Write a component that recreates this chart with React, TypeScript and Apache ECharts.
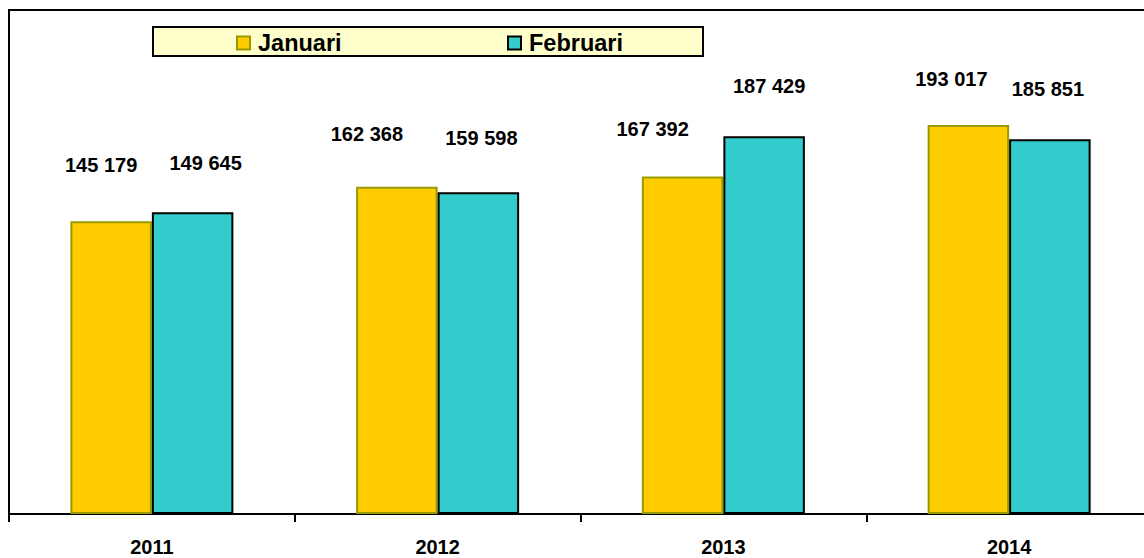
import React, { useEffect, useRef } from "react";
import * as echarts from "echarts";

const categories = ["2011", "2012", "2013", "2014"];
const januari = [145179, 162368, 167392, 193017];
const februari = [149645, 159598, 187429, 185851];
const seriesNames = ["Januari", "Februari"];
// manual label offsets (dx, dy from bar top to label centre)
const janLabelOffsets = [[-10, -56], [-30, -53], [-30, -48], [-17, -46]];
const febLabelOffsets = [[13, -49], [3, -54], [5, -50], [-2, -50]];

const FONT = "'Liberation Sans', Arial, sans-serif";

function fmt(v: number) {
  const s = String(v);
  return s.replace(/\B(?=(\d{3})+(?!\d))/g, " ");
}

export default function App() {
  const ref = useRef<HTMLDivElement>(null);
  useEffect(() => {
    if (!ref.current) return;
    const chart = echarts.init(ref.current, null, { renderer: "svg" });
    const mk = (vals: number[], offs: number[][]) =>
      vals.map((v, i) => ({
        value: v,
        label: { offset: offs[i] },
      }));
    const labelBase = {
      show: true,
      position: "top",
      distance: 0,
      verticalAlign: "middle",
      color: "#000",
      fontWeight: "bold",
      fontSize: 20,
      fontFamily: FONT,
      formatter: (p: any) => fmt(p.value),
    };
    const legendText = {
      fontWeight: "bold",
      fontSize: 23.5,
      color: "#000",
      fontFamily: FONT,
      padding: [0, 0, 0, 3],
    };
    chart.setOption({
      animation: false,
      textStyle: { fontFamily: FONT },
      graphic: [
        {
          type: "rect",
          z: 0,
          shape: { x: 153, y: 27, width: 550, height: 29 },
          style: { fill: "#FFFFCC", stroke: "#000", lineWidth: 2 },
        },
      ],
      legend: [
        {
          data: [seriesNames[0]],
          left: 236,
          top: 31,
          padding: 0,
          itemWidth: 13,
          itemHeight: 13,
          icon: "rect",
          textStyle: legendText,
        },
        {
          data: [seriesNames[1]],
          left: 507,
          top: 31,
          padding: 0,
          itemWidth: 13,
          itemHeight: 13,
          icon: "rect",
          textStyle: legendText,
        },
      ],
      grid: {
        left: 9,
        top: 10,
        width: 1143,
        height: 504,
        show: true,
        borderColor: "#000",
        borderWidth: 2,
        backgroundColor: "transparent",
        containLabel: false,
        outerBoundsMode: "none",
      },
      xAxis: {
        type: "category",
        data: categories,
        axisLine: { lineStyle: { color: "#000", width: 2 } },
        axisTick: { show: true, length: 8, lineStyle: { color: "#000", width: 2 } },
        axisLabel: {
          margin: 23,
          color: "#000",
          fontWeight: "bold",
          fontSize: 20,
          fontFamily: FONT,
        },
      },
      yAxis: {
        type: "value",
        min: 0,
        max: 250000,
        show: false,
        splitLine: { show: false },
      },
      series: [
        {
          name: seriesNames[0],
          type: "bar",
          barWidth: 81.5,
          barGap: "0%",
          data: mk(januari, janLabelOffsets),
          itemStyle: { color: "#FFCC00", borderColor: "#999900", borderWidth: 2 },
          label: labelBase,
        },
        {
          name: seriesNames[1],
          type: "bar",
          barWidth: 81.5,
          barGap: "0%",
          data: mk(februari, febLabelOffsets),
          itemStyle: { color: "#33CCCC", borderColor: "#000", borderWidth: 2 },
          label: labelBase,
        },
      ],
    });
    return () => chart.dispose();
  }, []);
  return (
    <div
      ref={ref}
      style={{ position: "absolute", left: 0, top: 0, width: 1144, height: 558 }}
    />
  );
}
